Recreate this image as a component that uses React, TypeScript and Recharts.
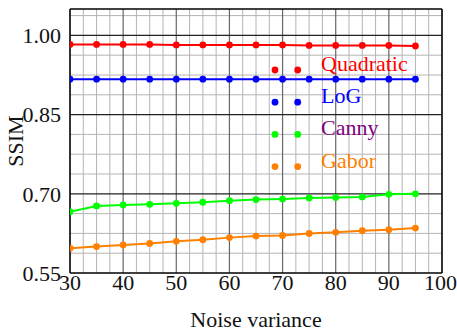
import React from 'react';
import { LineChart, Line, XAxis, YAxis, ReferenceLine } from 'recharts';

const noiseVariance = [30, 35, 40, 45, 50, 55, 60, 65, 70, 75, 80, 85, 90, 95];
const quadratic = [0.983, 0.983, 0.983, 0.983, 0.982, 0.982, 0.982, 0.982, 0.982, 0.981, 0.981, 0.981, 0.981, 0.980];
const logSeries = [0.917, 0.917, 0.917, 0.917, 0.917, 0.917, 0.917, 0.917, 0.917, 0.917, 0.917, 0.917, 0.917, 0.917];
const canny = [0.666, 0.677, 0.679, 0.680, 0.682, 0.684, 0.687, 0.689, 0.690, 0.692, 0.693, 0.694, 0.699, 0.700];
const gabor = [0.597, 0.600, 0.603, 0.606, 0.610, 0.613, 0.617, 0.620, 0.621, 0.625, 0.627, 0.630, 0.632, 0.635];

const xTicks = [30, 40, 50, 60, 70, 80, 90, 100];
const yTicks = [0.55, 0.7, 0.85, 1.0];
const xGridMinor = [32.5, 35, 37.5, 42.5, 45, 47.5, 52.5, 55, 57.5, 62.5, 65, 67.5, 72.5, 75, 77.5, 82.5, 85, 87.5, 92.5, 95, 97.5];
const xGridMajor = [40, 50, 60, 70, 80, 90];
const yGridMinor = [0.5875, 0.625, 0.6625, 0.7375, 0.775, 0.8125, 0.8875, 0.925, 0.9625, 1.0375];
const yGridMajor = [0.7, 0.85, 1.0];

const series = [
  { key: 'quadratic', name: 'Quadratic', values: quadratic, color: '#ff0000', text: '#ff0000' },
  { key: 'log', name: 'LoG', values: logSeries, color: '#0000ff', text: '#0000ff' },
  { key: 'canny', name: 'Canny', values: canny, color: '#00ff00', text: '#800080' },
  { key: 'gabor', name: 'Gabor', values: gabor, color: '#ff8000', text: '#ff8000' },
];

const data = noiseVariance.map((x, i) => {
  const row: any = { x };
  series.forEach((s) => { row[s.key] = s.values[i]; });
  return row;
});

const FONT = '"Liberation Serif", "DejaVu Serif", serif';
const FS = 22;

export default function App() {
  return (
    <div style={{ position: 'absolute', left: 0, top: 0, width: 457, height: 334, background: '#fff' }}>
      <LineChart width={457} height={334} data={data} margin={{ top: 9, right: 15, bottom: 0, left: 0 }}>
        <XAxis
          dataKey="x"
          type="number"
          domain={[30, 100]}
          ticks={xTicks}
          allowDataOverflow
          height={61}
          tickSize={0}
          tickMargin={1}
          tickLine={false}
          axisLine={{ stroke: '#000', strokeWidth: 1.6 }}
          tick={{ fill: '#111', fontSize: FS, fontFamily: FONT }}
          label={{ value: 'Noise variance', position: 'insideBottom', offset: 7, fill: '#111', fontSize: FS, fontFamily: FONT }}
        />
        <YAxis
          type="number"
          domain={[0.55, 1.05]}
          ticks={yTicks}
          allowDataOverflow
          width={70}
          tickSize={0}
          tickMargin={9}
          tickLine={false}
          axisLine={{ stroke: '#000', strokeWidth: 1.6 }}
          tickFormatter={(v: number) => v.toFixed(2)}
          tick={{ fill: '#111', fontSize: FS, fontFamily: FONT }}
          label={{ value: 'SSIM', angle: -90, position: 'insideLeft', offset: 15, fill: '#111', fontSize: FS, fontFamily: FONT, style: { textAnchor: 'middle' } }}
        />
        {xGridMinor.map((v) => (
          <ReferenceLine key={'xm' + v} x={v} stroke="#b4b4b4" strokeWidth={1} />
        ))}
        {yGridMinor.map((v) => (
          <ReferenceLine key={'ym' + v} y={v} stroke="#b4b4b4" strokeWidth={1} />
        ))}
        {xGridMajor.map((v) => (
          <ReferenceLine key={'xM' + v} x={v} stroke="#666666" strokeWidth={1.2} />
        ))}
        {yGridMajor.map((v) => (
          <ReferenceLine key={'yM' + v} y={v} stroke="#222222" strokeWidth={1.2} />
        ))}
        <ReferenceLine y={1.05} stroke="#000" strokeWidth={1.6} />
        <ReferenceLine x={100} stroke="#000" strokeWidth={1.6} />
        {series.map((s) => (
          <Line
            key={s.key}
            dataKey={s.key}
            name={s.name}
            stroke={s.color}
            strokeWidth={2}
            dot={{ r: 3.4, fill: s.color, stroke: s.color, strokeWidth: 0 }}
            isAnimationActive={false}
          />
        ))}
      </LineChart>
      <svg width={457} height={334} style={{ position: 'absolute', left: 0, top: 0, pointerEvents: 'none' }}>
        {series.map((s, i) => {
          const y = 70 + i * 32.2;
          return (
            <g key={s.key}>
              <circle cx={275} cy={y} r={3.4} fill={s.color} />
              <circle cx={297.7} cy={y} r={3.4} fill={s.color} />
              <text x={321} y={y + 1} fill={s.text} fontSize={FS} fontFamily={FONT}>{s.name}</text>
            </g>
          );
        })}
      </svg>
    </div>
  );
}
